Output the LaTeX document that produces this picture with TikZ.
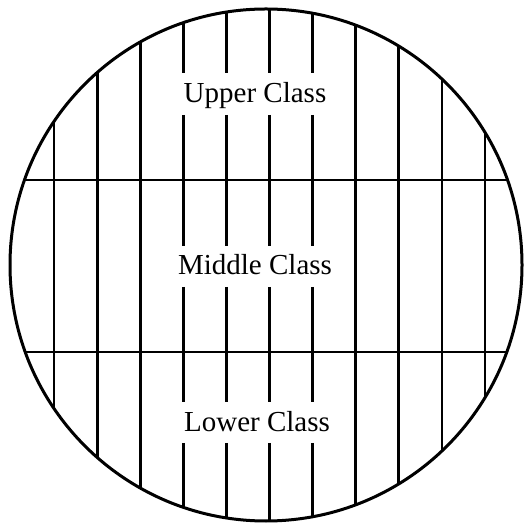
\documentclass[tikz,border=0pt]{standalone}
\usepackage{fontspec}
\setmainfont{Liberation Serif}
\begin{document}
\begin{tikzpicture}[x=1pt,y=1pt,
  rule/.style={line width=2.8pt,black},
  rim/.style={line width=3pt,black},
  label/.style={anchor=base,inner sep=0pt,font=\fontsize{29}{32}\selectfont}]
\useasboundingbox (0,0) rectangle (532,524);
\coordinate (c) at (266,259);
\begin{scope}
  \clip (c) circle (256);
  % horizontal dividers
  \draw[rule] (0,344) -- (532,344);
  \draw[rule] (0,172) -- (532,172);
  % outer vertical lines (full height)
  \foreach \k in {0,1,2,7,8,9,10}{
    \draw[rule] ({54+43.1*\k},0) -- ({54+43.1*\k},524);
  }
  % central vertical lines, interrupted by labels
  \foreach \k in {3,4,5,6}{
    \draw[rule] ({54+43.1*\k},524) -- ({54+43.1*\k},451);
    \draw[rule] ({54+43.1*\k},409) -- ({54+43.1*\k},278);
    \draw[rule] ({54+43.1*\k},237) -- ({54+43.1*\k},122);
    \draw[rule] ({54+43.1*\k},81) -- ({54+43.1*\k},0);
  }
\end{scope}
\draw[rim] (c) circle (256);
\node[label] (upper) at (255,421) {Upper Class};
\node[label] (middle) at (255,249) {Middle Class};
\node[label] (lower) at (257,92) {Lower Class};
\end{tikzpicture}
\end{document}
